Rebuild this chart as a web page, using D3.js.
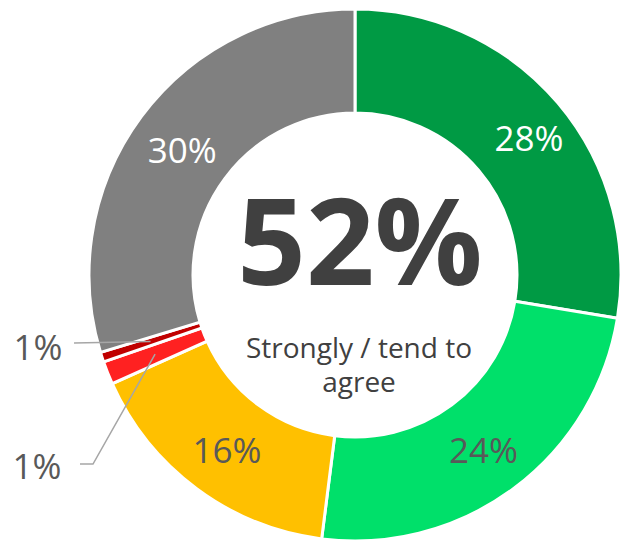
<!DOCTYPE html>
<html>
<head>
<meta charset="utf-8">
<script src="https://cdn.jsdelivr.net/npm/d3@7"></script>
<style>
    html, body { margin: 0; padding: 0; background: #fff; }
    #chart { width: 623px; height: 544px; }
    text { font-family: 'Open Sans', 'Noto Sans', sans-serif; }
</style>
</head>
<body>
<div id="chart"></div>
<script>
// slice data, clockwise from 12 o'clock
const categories = ["Strongly agree", "Tend to agree", "Neither", "Tend to disagree", "Strongly disagree", "Don't know"];
const values = [27.6, 24.4, 16.3, 1.4, 0.6, 29.7];
const colors = ["#009a44", "#00e06a", "#ffc000", "#ff2121", "#c00000", "#808080"];
const labelColors = ["#ffffff", "#595959", "#595959", "#595959", "#595959", "#ffffff"];
const agreeKeys = ["Strongly agree", "Tend to agree"];
const centerCaption = ["Strongly / tend to", "agree"];

const width = 623, height = 544;
const cx = 355, cy = 275;
const outerR = 266, innerR = 162;

const data = categories.map((c, i) => ({ category: c, value: values[i], color: colors[i], labelColor: labelColors[i] }));

const svg = d3.select("#chart")
    .append("svg")
    .attr("width", width)
    .attr("height", height);

const g = svg.append("g").attr("transform", `translate(${cx},${cy})`);

const pie = d3.pie().value(d => d.value).sort(null);
const arc = d3.arc().innerRadius(innerR).outerRadius(outerR);
const labelArc = d3.arc().innerRadius(215).outerRadius(215);

const arcs = pie(data);

g.selectAll("path.slice")
    .data(arcs)
    .join("path")
    .attr("class", "slice")
    .attr("d", arc)
    .attr("fill", d => d.data.color)
    .attr("stroke", "#fff")
    .attr("stroke-width", 3);

// labels inside the ring (slices big enough)
const inside = arcs.filter(d => d.data.value >= 5);
g.selectAll("text.inlabel")
    .data(inside)
    .join("text")
    .attr("class", "inlabel")
    .attr("x", d => labelArc.centroid(d)[0] + (d.index === 0 ? 10 : 0))
    .attr("y", d => labelArc.centroid(d)[1] + 2)
    .attr("text-anchor", "middle")
    .attr("dominant-baseline", "central")
    .attr("font-size", "35px")
    .attr("fill", d => d.data.labelColor)
    .text(d => Math.round(d.data.value) + "%");

// small slices: labels outside on the left with leader lines
const outside = arcs.filter(d => d.data.value < 5);
// text anchor offsets from the centre, per small slice (red, dark red)
const outPos = { 3: [-318, 190], 4: [-317, 71] };

outside.forEach(d => {
    const [px, py] = labelArc.centroid(d);
    const [tx, ty] = outPos[d.index];
    let pts;
    if (d.index === 3) {
        pts = [[tx + 43, ty - 1], [tx + 56, ty - 1], [px, py]];
    } else {
        pts = [[tx + 36, ty - 3], [px, py]];
    }
    g.append("path")
        .attr("d", d3.line()(pts))
        .attr("fill", "none")
        .attr("stroke", "#a6a6a6")
        .attr("stroke-width", 1.5);
    g.append("text")
        .attr("x", tx)
        .attr("y", ty)
        .attr("text-anchor", "middle")
        .attr("dominant-baseline", "central")
        .attr("font-size", "35px")
        .attr("fill", "#595959")
        .text(Math.round(d.data.value) + "%");
});

// centre figure
const agreeTotal = d3.sum(data.filter(d => agreeKeys.includes(d.category)), d => d.value);

g.append("text")
    .attr("x", 5)
    .attr("y", 10)
    .attr("text-anchor", "middle")
    .attr("font-size", "120px")
    .attr("font-weight", "bold")
    .attr("fill", "#404040")
    .text(Math.round(agreeTotal) + "%");

g.append("text")
    .attr("text-anchor", "middle")
    .attr("font-size", "28px")
    .attr("fill", "#404040")
    .selectAll("tspan")
    .data(centerCaption)
    .join("tspan")
    .attr("x", 4)
    .attr("y", (d, i) => 83 + i * 34)
    .text(d => d);
</script>
</body>
</html>
